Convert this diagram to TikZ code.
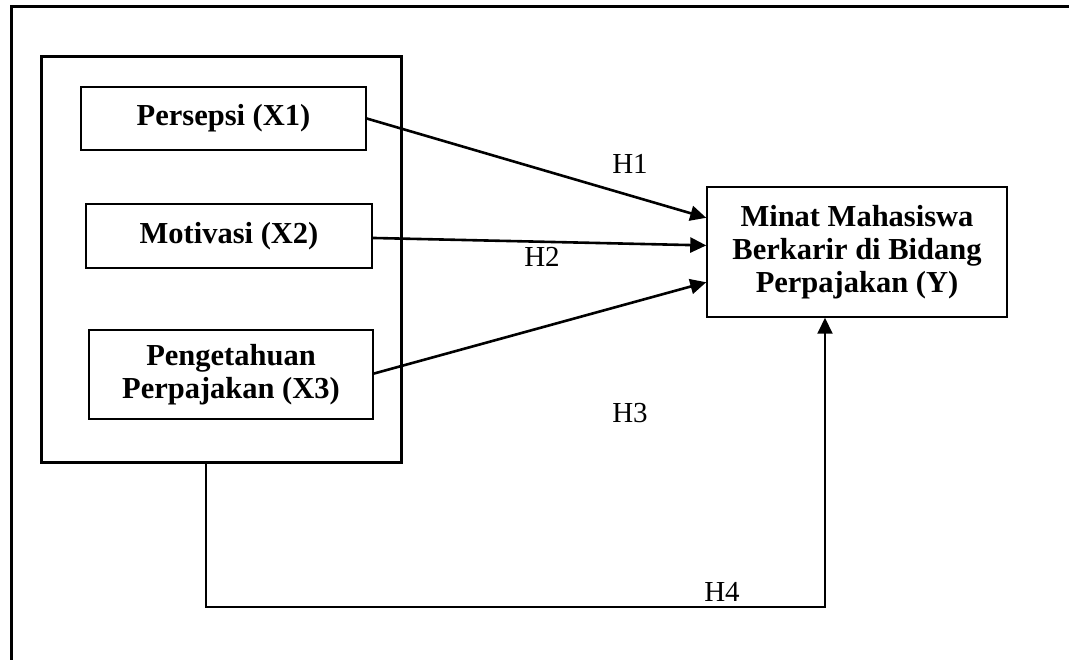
\documentclass[tikz,border=0pt]{standalone}
\usepackage{fontspec}
\setmainfont{Liberation Serif}
\usetikzlibrary{arrows.meta,calc}
\begin{document}
\begin{tikzpicture}[x=1pt,y=-1pt,
  varbox/.style={draw,line width=1.5pt,inner sep=0pt,align=center,
    font=\fontsize{30.5}{33}\selectfont\bfseries},
  bigbox/.style={draw,line width=3pt,inner sep=0pt},
  tip/.style={-{Triangle[length=16pt,width=15pt]}},
  conn/.style={line width=2.6pt,tip},
  hlabel/.style={font=\fontsize{29}{34}\selectfont,inner sep=0pt}]
\useasboundingbox (0,0) rectangle (1069,660);
% outer frame (open at right and bottom)
\coordinate (fb) at (11,660);
\coordinate (fc) at (11,7);
\coordinate (fr) at (1069,7);
\draw[line width=3pt] (fb) -- (fc) -- (fr);
% inner grouping box
\node[bigbox,minimum width=360pt,minimum height=405pt] (grp) at (221,259.5) {};
% variable boxes
\node[varbox,minimum width=285pt,minimum height=63pt] (x1) at (223.5,118.5) {Persepsi (X1)};
\node[varbox,minimum width=286pt,minimum height=64pt] (x2) at (229,236) {Motivasi (X2)};
\node[varbox,minimum width=284pt,minimum height=89pt] (x3) at (231,374.5) {Pengetahuan\\Perpajakan (X3)};
\node[varbox,minimum width=300pt,minimum height=130pt] (y) at (857,252) {Minat Mahasiswa\\Berkarir di Bidang\\Perpajakan (Y)};
% arrows
\draw[conn] ($(x1.north east)!0.5!(x1.south east)$) -- ($(y.north west)!0.24!(y.south west)$);
\draw[conn] ($(x2.north east)!0.53!(x2.south east)$) -- ($(y.north west)!0.45!(y.south west)$);
\draw[conn] ($(x3.north east)!0.49!(x3.south east)$) -- ($(y.north west)!0.73!(y.south west)$);
\coordinate (c1) at (206,607);
\coordinate (c2) at (825,607);
\draw[line width=2pt,tip] (grp.south -| c1) -- (c1) -- (c2) -- (y.south -| c2);
% labels
\node[hlabel] (h1) at (630,164) {H1};
\node[hlabel] (h2) at (542,257) {H2};
\node[hlabel] (h3) at (630,413) {H3};
\node[hlabel] (h4) at (722,592) {H4};
\end{tikzpicture}
\end{document}
